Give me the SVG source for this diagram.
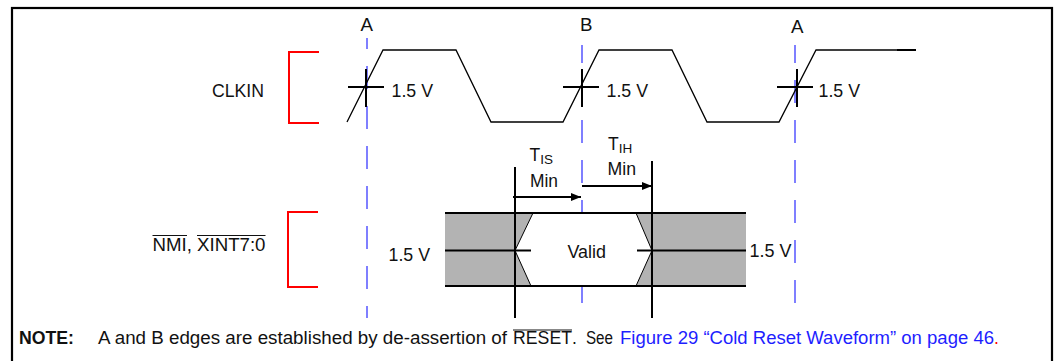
<svg xmlns="http://www.w3.org/2000/svg" width="1054" height="361" viewBox="0 0 1054 361">
  <style>
    text { font-family: "Liberation Sans", Arial, sans-serif; font-size: 17.5px; fill: #111; }
    .sub { font-size: 13.5px; }
    .bold { font-weight: bold; }
    .link { fill: #1e1eff; }
    .red { fill: #ff0000; }
    .frame { fill: none; stroke: #000; stroke-width: 2.2; }
    .bracket { fill: none; stroke: #ff0000; stroke-width: 2; }
    .wave { fill: none; stroke: #000; stroke-width: 1.3; }
    .cross { stroke: #000; stroke-width: 2; }
    .edge { stroke: #7f7fff; stroke-width: 2; stroke-dasharray: 23 17; }
    .solid { stroke: #000; stroke-width: 2; }
    .band { fill: #b3b3b3; }
    .ovl { stroke: #111; stroke-width: 1; }
  </style>
  <defs>
    <marker id="arrow" markerWidth="10" markerHeight="8" refX="10" refY="4" orient="auto" markerUnits="userSpaceOnUse">
      <path d="M0,0 L10,4 L0,8 Z" fill="#000"/>
    </marker>
  </defs>

  <rect width="1054" height="361" fill="#fff"/>
  <rect id="frame" class="frame" x="12" y="8" width="1040" height="370"/>

  <!-- Edge reference lines -->
  <g id="edge-lines">
    <line class="edge" x1="367" y1="38" x2="367" y2="318" stroke-dashoffset="12"/>
    <line class="edge" x1="582" y1="45" x2="582" y2="318" stroke-dashoffset="5"/>
    <line class="edge" x1="795" y1="45" x2="795" y2="318" stroke-dashoffset="5"/>
  </g>

  <!-- Edge labels -->
  <g id="edge-labels">
    <text x="360.5" y="30.5" textLength="12.5" lengthAdjust="spacingAndGlyphs">A</text>
    <text x="580" y="31" textLength="12.5" lengthAdjust="spacingAndGlyphs">B</text>
    <text x="791" y="33" textLength="12.5" lengthAdjust="spacingAndGlyphs">A</text>
  </g>

  <!-- CLKIN signal -->
  <g id="clkin-label">
    <text x="212" y="96.5" textLength="52" lengthAdjust="spacingAndGlyphs">CLKIN</text>
  </g>
  <g id="clkin-bracket">
    <path class="bracket" d="M319,52 H289 V123 H319"/>
  </g>
  <g id="clkin-wave">
    <polyline class="wave" points="347,122 383,50 456,50 491,122 563,122 599,50 672,50 707,122 779,122 816,50 897,50"/>
    <line x1="897" y1="50" x2="916" y2="50" stroke="#000" stroke-width="2"/>
  </g>
  <g id="clkin-thresholds">
    <line class="cross" x1="348" y1="87" x2="384" y2="87"/>
    <line class="cross" x1="366" y1="69" x2="366" y2="107"/>
    <text x="391.5" y="96.5" textLength="41.5" lengthAdjust="spacingAndGlyphs">1.5 V</text>
    <line class="cross" x1="563" y1="87" x2="599" y2="87"/>
    <line class="cross" x1="582" y1="69" x2="582" y2="107"/>
    <text x="606.5" y="96.5" textLength="41.5" lengthAdjust="spacingAndGlyphs">1.5 V</text>
    <line class="cross" x1="777" y1="87" x2="813" y2="87"/>
    <line class="cross" x1="797" y1="69" x2="797" y2="107"/>
    <text x="818.5" y="96.5" textLength="41.5" lengthAdjust="spacingAndGlyphs">1.5 V</text>
  </g>

  <!-- NMI / XINT signal -->
  <g id="nmi-label">
    <text x="152.5" y="250.5" textLength="113" lengthAdjust="spacingAndGlyphs">NMI, XINT7:0</text>
    <line class="ovl" x1="152.5" y1="235.5" x2="187" y2="235.5"/>
    <line class="ovl" x1="197" y1="235.5" x2="265.5" y2="235.5"/>
  </g>
  <g id="nmi-bracket">
    <path class="bracket" d="M318,212 H288 V287 H318"/>
  </g>
  <g id="nmi-wave">
    <rect class="band" x="445" y="213" width="301" height="73"/>
    <polygon points="533,213 515,250.5 531,286 636,286 652,250.5 636,213" fill="#fff" stroke="#000" stroke-width="1"/>
    <line class="solid" x1="445" y1="213" x2="746" y2="213"/>
    <line class="solid" x1="445" y1="286" x2="746" y2="286"/>
    <line class="solid" x1="445" y1="250.5" x2="531" y2="250.5"/>
    <line class="solid" x1="637" y1="250.5" x2="746" y2="250.5"/>
    <text x="567.5" y="258" textLength="38.5" lengthAdjust="spacingAndGlyphs">Valid</text>
    <text x="388.5" y="260.5" textLength="41.5" lengthAdjust="spacingAndGlyphs">1.5 V</text>
    <text x="749.5" y="256.5" textLength="42" lengthAdjust="spacingAndGlyphs">1.5 V</text>
  </g>

  <!-- Timing lines and arrows -->
  <g id="connectors">
    <line class="solid" x1="515" y1="167" x2="515" y2="318"/>
    <line class="solid" x1="652" y1="161" x2="652" y2="318"/>
    <line class="solid" x1="513" y1="197" x2="581" y2="197" marker-end="url(#arrow)"/>
    <line class="solid" x1="582" y1="186" x2="652" y2="186" marker-end="url(#arrow)"/>
  </g>
  <g id="tis-label">
    <text x="529.5" y="161">T<tspan class="sub" dy="3">IS</tspan></text>
    <text x="530" y="187" textLength="28" lengthAdjust="spacingAndGlyphs">Min</text>
  </g>
  <g id="tih-label">
    <text x="608" y="150">T<tspan class="sub" dy="3">IH</tspan></text>
    <text x="607.5" y="175" textLength="28.5" lengthAdjust="spacingAndGlyphs">Min</text>
  </g>

  <!-- Note -->
  <g id="note">
    <text class="bold" x="19" y="344" textLength="55" lengthAdjust="spacingAndGlyphs">NOTE:</text>
    <text x="98" y="344" textLength="409" lengthAdjust="spacingAndGlyphs">A and B edges are established by de-assertion of</text>
    <text x="513" y="344" textLength="59" lengthAdjust="spacingAndGlyphs">RESET</text>
    <line class="ovl" x1="513" y1="330" x2="572" y2="330"/>
    <text x="572" y="344">.</text>
    <text x="586" y="344" textLength="27" lengthAdjust="spacingAndGlyphs">See</text>
    <text class="link" x="620" y="344" textLength="374" lengthAdjust="spacingAndGlyphs">Figure 29 “Cold Reset Waveform” on page 46</text>
    <text class="red" x="994" y="344">.</text>
  </g>
</svg>
